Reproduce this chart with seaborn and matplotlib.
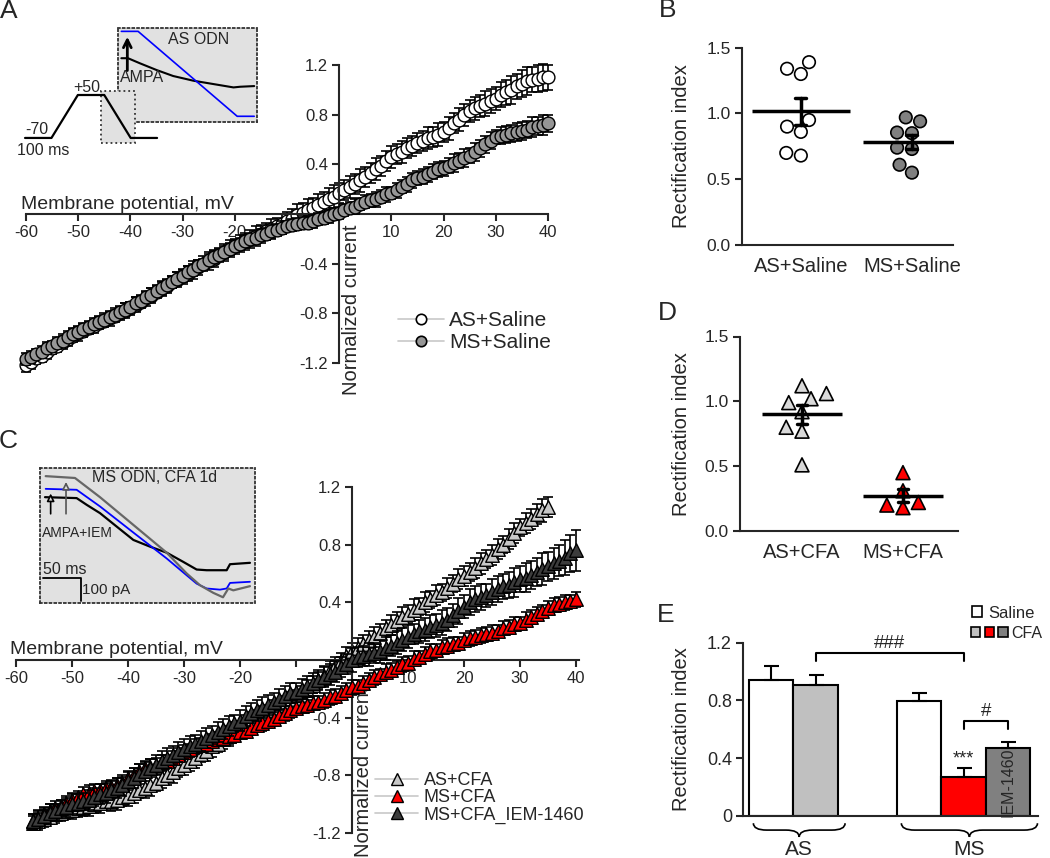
import numpy as np
import pandas as pd
import seaborn as sns
import matplotlib.pyplot as plt
from matplotlib.lines import Line2D
from matplotlib.patches import Patch, Rectangle, PathPatch
from matplotlib.path import Path
from matplotlib.legend_handler import HandlerTuple

# ---------------- Panel A: I-V curves (saline) ----------------
volt_a = list(range(-60, 41))
as_saline = [
    -1.22, -1.19, -1.16, -1.14, -1.11, -1.08,
    -1.06, -1.03, -1.01, -0.98, -0.96,
    -0.94, -0.92, -0.90, -0.88, -0.86,
    -0.84, -0.82, -0.80, -0.78, -0.76,
    -0.73, -0.71, -0.68, -0.66, -0.63,
    -0.60, -0.58, -0.55, -0.53, -0.50,
    -0.48, -0.45, -0.43, -0.40, -0.38,
    -0.36, -0.33, -0.31, -0.28, -0.26,
    -0.24, -0.22, -0.20, -0.18, -0.16,
    -0.14, -0.12, -0.10, -0.08, -0.06,
    -0.04, -0.01, 0.01, 0.03, 0.05,
    0.07, 0.10, 0.12, 0.14, 0.17,
    0.19, 0.22, 0.24, 0.27, 0.30,
    0.33, 0.36, 0.39, 0.43, 0.46,
    0.48, 0.50, 0.53, 0.55, 0.57,
    0.59, 0.61, 0.62, 0.64, 0.66,
    0.69, 0.73, 0.76, 0.80, 0.83,
    0.85, 0.87, 0.89, 0.91, 0.93,
    0.96, 0.98, 1.00, 1.03, 1.05,
    1.07, 1.08, 1.09, 1.10, 1.10,
]
as_saline_sem = [
    0.05, 0.06, 0.05, 0.05, 0.06, 0.05,
    0.05, 0.06, 0.05, 0.05, 0.06,
    0.05, 0.05, 0.06, 0.05, 0.05,
    0.06, 0.05, 0.05, 0.06, 0.05,
    0.06, 0.05, 0.06, 0.06, 0.05,
    0.06, 0.06, 0.05, 0.06, 0.06,
    0.06, 0.07, 0.06, 0.06, 0.07,
    0.07, 0.06, 0.07, 0.07, 0.06,
    0.07, 0.07, 0.07, 0.08, 0.07,
    0.07, 0.08, 0.07, 0.08, 0.08,
    0.08, 0.09, 0.08, 0.09, 0.08,
    0.09, 0.08, 0.09, 0.09, 0.08,
    0.08, 0.09, 0.08, 0.09, 0.08,
    0.08, 0.09, 0.08, 0.08, 0.09,
    0.08, 0.09, 0.08, 0.08, 0.08,
    0.08, 0.09, 0.08, 0.09, 0.08,
    0.09, 0.08, 0.09, 0.09, 0.09,
    0.09, 0.09, 0.10, 0.10, 0.09,
    0.10, 0.10, 0.11, 0.10, 0.11,
    0.11, 0.10, 0.11, 0.11, 0.10,
]
ms_saline = [
    -1.17, -1.15, -1.13, -1.11, -1.08, -1.06,
    -1.04, -1.02, -0.99, -0.97, -0.95,
    -0.93, -0.91, -0.89, -0.87, -0.85,
    -0.83, -0.81, -0.79, -0.77, -0.75,
    -0.72, -0.70, -0.67, -0.65, -0.62,
    -0.60, -0.57, -0.55, -0.52, -0.50,
    -0.47, -0.45, -0.42, -0.40, -0.37,
    -0.35, -0.33, -0.31, -0.28, -0.26,
    -0.24, -0.22, -0.20, -0.19, -0.17,
    -0.16, -0.14, -0.13, -0.11, -0.10,
    -0.09, -0.08, -0.07, -0.07, -0.06,
    -0.04, -0.03, -0.02, 0.00, 0.01,
    0.03, 0.05, 0.06, 0.08, 0.10,
    0.11, 0.12, 0.14, 0.16, 0.17,
    0.19, 0.22, 0.24, 0.27, 0.29,
    0.30, 0.32, 0.34, 0.36, 0.37,
    0.39, 0.41, 0.43, 0.45, 0.47,
    0.50, 0.53, 0.56, 0.59, 0.62,
    0.63, 0.64, 0.65, 0.66, 0.67,
    0.68, 0.70, 0.71, 0.72, 0.73,
]
ms_saline_sem = [
    0.05, 0.05, 0.04, 0.05, 0.05, 0.04,
    0.05, 0.04, 0.05, 0.05, 0.04,
    0.05, 0.05, 0.04, 0.05, 0.05,
    0.04, 0.05, 0.05, 0.05, 0.04,
    0.05, 0.05, 0.04, 0.05, 0.05,
    0.05, 0.04, 0.05, 0.05, 0.05,
    0.05, 0.05, 0.05, 0.04, 0.05,
    0.05, 0.05, 0.05, 0.05, 0.05,
    0.05, 0.05, 0.04, 0.05, 0.05,
    0.05, 0.05, 0.05, 0.05, 0.04,
    0.05, 0.05, 0.05, 0.05, 0.05,
    0.05, 0.05, 0.05, 0.05, 0.05,
    0.05, 0.05, 0.06, 0.05, 0.05,
    0.05, 0.06, 0.05, 0.06, 0.05,
    0.06, 0.05, 0.06, 0.06, 0.06,
    0.06, 0.06, 0.06, 0.06, 0.06,
    0.06, 0.07, 0.06, 0.07, 0.06,
    0.07, 0.07, 0.07, 0.07, 0.06,
    0.07, 0.07, 0.07, 0.07, 0.07,
    0.07, 0.08, 0.07, 0.08, 0.07,
]

# inset A: voltage protocol and example traces (AS ODN)
protocol_t = [0, 100, 200, 300, 400, 500]
protocol_mv = [-70, -70, 50, 50, -70, -70]
trace_a_t_blue = [0, 12.6, 87.2, 100]
trace_a_blue = [0, 0, -253, -253]
trace_a_t_black = [0, 5.0, 13.9, 26.4, 39.0, 54.2, 69.3, 84.4, 89.4, 100]
trace_a_black = [-80, -80, -95, -115, -133, -147, -157, -167, -165, -163]

# ---------------- Panel C: I-V curves (CFA) ----------------
volt_c_as = list(range(-57, 36))
volt_c_ms = list(range(-57, 41))
as_cfa = [
    -1.13, -1.12, -1.10, -1.09, -1.07,
    -1.06, -1.05, -1.04, -1.03, -1.02,
    -1.01, -1.00, -0.99, -0.98, -0.98,
    -0.97, -0.95, -0.94, -0.92, -0.90,
    -0.89, -0.87, -0.85, -0.82, -0.80,
    -0.78, -0.75, -0.73, -0.70, -0.68,
    -0.65, -0.63, -0.60, -0.58, -0.55,
    -0.53, -0.50, -0.48, -0.45, -0.43,
    -0.41, -0.39, -0.37, -0.35, -0.33,
    -0.31, -0.29, -0.27, -0.24, -0.21,
    -0.17, -0.14, -0.11, -0.07, -0.04,
    -0.01, 0.03, 0.06, 0.08, 0.11,
    0.14, 0.16, 0.19, 0.22, 0.24,
    0.27, 0.30, 0.32, 0.35, 0.37,
    0.40, 0.42, 0.45, 0.47, 0.50,
    0.53, 0.56, 0.58, 0.61, 0.64,
    0.67, 0.70, 0.73, 0.77, 0.80,
    0.84, 0.88, 0.92, 0.95, 0.98,
    1.01, 1.04, 1.06,
]
as_cfa_sem = [
    0.05, 0.06, 0.06, 0.05, 0.06,
    0.06, 0.05, 0.06, 0.06, 0.06,
    0.07, 0.06, 0.07, 0.06, 0.07,
    0.07, 0.06, 0.07, 0.07, 0.06,
    0.07, 0.07, 0.06, 0.07, 0.07,
    0.07, 0.06, 0.07, 0.07, 0.07,
    0.06, 0.07, 0.07, 0.06, 0.07,
    0.07, 0.07, 0.06, 0.07, 0.07,
    0.06, 0.07, 0.06, 0.07, 0.06,
    0.06, 0.07, 0.06, 0.06, 0.07,
    0.06, 0.06, 0.07, 0.06, 0.06,
    0.06, 0.06, 0.06, 0.07, 0.06,
    0.06, 0.07, 0.06, 0.06, 0.07,
    0.06, 0.07, 0.06, 0.07, 0.06,
    0.07, 0.06, 0.07, 0.06, 0.07,
    0.06, 0.07, 0.07, 0.06, 0.07,
    0.07, 0.06, 0.07, 0.07, 0.06,
    0.07, 0.07, 0.06, 0.07, 0.07,
    0.07, 0.08, 0.07,
]
ms_cfa = [
    -1.12, -1.10, -1.07, -1.05, -1.03,
    -1.01, -0.99, -0.97, -0.95, -0.93,
    -0.92, -0.91, -0.90, -0.89, -0.88,
    -0.87, -0.85, -0.82, -0.80, -0.77,
    -0.75, -0.74, -0.73, -0.71, -0.70,
    -0.68, -0.66, -0.64, -0.62, -0.60,
    -0.59, -0.58, -0.56, -0.55, -0.54,
    -0.53, -0.52, -0.50, -0.49, -0.47,
    -0.45, -0.44, -0.42, -0.41, -0.39,
    -0.37, -0.35, -0.33, -0.32, -0.31,
    -0.30, -0.29, -0.28, -0.26, -0.25,
    -0.23, -0.21, -0.19, -0.18, -0.16,
    -0.14, -0.12, -0.10, -0.08, -0.07,
    -0.05, -0.03, -0.02, 0.01, 0.02,
    0.04, 0.06, 0.07, 0.09, 0.10,
    0.11, 0.12, 0.14, 0.15, 0.16,
    0.17, 0.18, 0.19, 0.20, 0.22,
    0.23, 0.25, 0.26, 0.28, 0.30,
    0.32, 0.34, 0.36, 0.38, 0.39,
    0.40, 0.41, 0.42,
]
ms_cfa_sem = [
    0.05, 0.05, 0.04, 0.05, 0.05,
    0.04, 0.05, 0.05, 0.04, 0.05,
    0.05, 0.05, 0.04, 0.05, 0.05,
    0.05, 0.04, 0.05, 0.05, 0.05,
    0.04, 0.05, 0.05, 0.05, 0.04,
    0.05, 0.05, 0.05, 0.04, 0.05,
    0.05, 0.04, 0.05, 0.05, 0.05,
    0.05, 0.05, 0.04, 0.05, 0.05,
    0.04, 0.05, 0.05, 0.05, 0.04,
    0.05, 0.05, 0.04, 0.05, 0.05,
    0.05, 0.04, 0.05, 0.05, 0.05,
    0.05, 0.05, 0.05, 0.04, 0.05,
    0.05, 0.05, 0.04, 0.05, 0.05,
    0.04, 0.05, 0.05, 0.05, 0.04,
    0.05, 0.05, 0.04, 0.05, 0.05,
    0.05, 0.04, 0.05, 0.05, 0.05,
    0.05, 0.05, 0.05, 0.04, 0.05,
    0.05, 0.05, 0.04, 0.05, 0.05,
    0.05, 0.04, 0.05, 0.05, 0.05,
    0.05, 0.04, 0.05,
]
ms_cfa_iem = [
    -1.12, -1.10, -1.08, -1.06, -1.05,
    -1.03, -1.02, -1.00, -0.99, -0.98,
    -0.97, -0.95, -0.93, -0.92, -0.90,
    -0.89, -0.87, -0.84, -0.82, -0.79,
    -0.77, -0.75, -0.73, -0.70, -0.68,
    -0.66, -0.64, -0.62, -0.60, -0.58,
    -0.56, -0.54, -0.52, -0.50, -0.48,
    -0.46, -0.44, -0.42, -0.39, -0.37,
    -0.35, -0.33, -0.31, -0.29, -0.27,
    -0.25, -0.23, -0.22, -0.20, -0.18,
    -0.16, -0.14, -0.12, -0.10, -0.08,
    -0.05, -0.03, 0.00, 0.02, 0.03,
    0.04, 0.05, 0.06, 0.08, 0.10,
    0.12, 0.14, 0.16, 0.18, 0.20,
    0.21, 0.23, 0.24, 0.26, 0.28,
    0.31, 0.34, 0.37, 0.40, 0.42,
    0.44, 0.45, 0.47, 0.49, 0.51,
    0.52, 0.54, 0.56, 0.57, 0.59,
    0.61, 0.63, 0.65, 0.67, 0.69,
    0.71, 0.74, 0.76,
]
ms_cfa_iem_sem = [
    0.05, 0.06, 0.06, 0.06, 0.05,
    0.06, 0.06, 0.07, 0.06, 0.06,
    0.07, 0.06, 0.07, 0.07, 0.06,
    0.07, 0.07, 0.06, 0.07, 0.07,
    0.07, 0.06, 0.07, 0.07, 0.07,
    0.06, 0.07, 0.07, 0.07, 0.06,
    0.07, 0.07, 0.06, 0.07, 0.07,
    0.07, 0.06, 0.07, 0.07, 0.07,
    0.07, 0.07, 0.07, 0.06, 0.07,
    0.07, 0.07, 0.06, 0.07, 0.07,
    0.07, 0.07, 0.07, 0.07, 0.07,
    0.07, 0.07, 0.08, 0.07, 0.07,
    0.08, 0.07, 0.08, 0.08, 0.07,
    0.08, 0.08, 0.08, 0.07, 0.08,
    0.08, 0.08, 0.08, 0.09, 0.08,
    0.08, 0.09, 0.08, 0.09, 0.09,
    0.09, 0.08, 0.09, 0.09, 0.09,
    0.09, 0.10, 0.09, 0.10, 0.10,
    0.10, 0.11, 0.10, 0.11, 0.11,
    0.12, 0.13, 0.14,
]

# inset C: example traces (MS ODN, CFA 1d), ms / pA
trace_c_t_gray = [0.9, 39.8, 73.0, 117.3, 161.5, 188.1, 205.8, 223.5, 236.3, 243.4, 250.0, 272.1]
trace_c_gray = [1, -7, -90, -210, -330, -420, -471, -504, -523, -485, -493, -475]
trace_c_t_blue = [0.9, 42.0, 73.0, 117.3, 161.5, 188.1, 201.3, 214.6, 232.3, 241.2, 245.6, 272.1]
trace_c_blue = [-54, -58, -130, -243, -355, -428, -464, -485, -490, -485, -461, -456]
trace_c_t_black = [0, 42.0, 55.3, 73.0, 95.1, 117.3, 139.4, 161.5, 183.6, 201.3, 214.6, 241.2, 245.6, 272.1]
trace_c_black = [-90, -94, -123, -159, -217, -275, -304, -330, -370, -403, -406, -406, -380, -374]

# ---------------- Panels B, D: individual rectification indices ----------------
groups_b = ["AS+Saline", "MS+Saline"]
ri_as_saline = [1.34, 1.30, 1.39, 0.90, 0.86, 0.95, 0.68, 0.70]
ri_ms_saline = [0.97, 0.94, 0.85, 0.855, 0.73, 0.74, 0.61, 0.55]
groups_d = ["AS+CFA", "MS+CFA"]
ri_as_cfa = [1.02, 1.06, 1.12, 0.99, 0.92, 0.77, 0.80, 0.51]
ri_ms_cfa = [0.45, 0.31, 0.20, 0.18, 0.22]

# ---------------- Panel E: summary bars ----------------
e_group = ["AS", "AS", "MS", "MS", "MS"]
e_cond = ["Saline", "CFA", "Saline", "CFA", "IEM-1460"]
e_mean = [0.94, 0.91, 0.795, 0.27, 0.47]
e_sem = [0.10, 0.065, 0.06, 0.06, 0.045]
e_colors = ["white", "#c0c0c0", "white", "#ff0000", "#808080"]

# ---------------- figure ----------------
sns.set_style("ticks")
plt.rcParams["font.family"] = ["Liberation Sans", "DejaVu Sans"]
plt.rcParams["axes.linewidth"] = 1.5

W, H = 1050, 858
fig = plt.figure(figsize=(W / 100, H / 100), dpi=100)


def px_axes(x0, y0, x1, y1):
    return fig.add_axes([x0 / W, 1 - y1 / H, (x1 - x0) / W, (y1 - y0) / H])


def style_iv(ax, xlim, ylim, xmax):
    ax.set_xlim(xlim)
    ax.set_ylim(ylim)
    ax.set_facecolor("none")
    ax.spines["top"].set_visible(False)
    ax.spines["right"].set_visible(False)
    ax.spines["left"].set_position(("data", 0))
    ax.spines["bottom"].set_position(("data", 0))
    ax.spines["left"].set_bounds(-1.2, 1.2)
    ax.spines["bottom"].set_bounds(-60, xmax)
    xt = [-60, -50, -40, -30, -20, -10, 10, 20, 30, 40]
    ax.set_xticks(xt)
    ax.set_xticklabels([("" if v == -10 else str(v)) for v in xt])
    yt = [-1.2, -0.8, -0.4, 0.4, 0.8, 1.2]
    ax.set_yticks(yt)
    ax.set_yticklabels([f"{v:.1f}" for v in yt])
    ax.tick_params(direction="out", length=5, width=1.5, labelsize=12, pad=3)
    ax.set_xlabel("")
    ax.set_ylabel("")
    ax.text(xlim[0] + 1, 0.04, "Membrane potential, mV", ha="left", va="baseline", fontsize=14)


def iv_series(ax, x, y, err, face, marker, size, z):
    ax.errorbar(x, y, yerr=err, fmt="none", ecolor="black", elinewidth=1.2,
                capsize=3.5, capthick=1.2, zorder=z)
    sns.scatterplot(x=x, y=y, ax=ax, color=face, marker=marker, s=size,
                    edgecolor="black", linewidth=1.0, zorder=z + 0.5, clip_on=False,
                    legend=False)


# ---- Panel A ----
axA = px_axes(15.6, 52.6, 558.4, 375.4)
iv_series(axA, volt_a, as_saline, as_saline_sem, "white", "o", 85, 2)
iv_series(axA, volt_a, ms_saline, ms_saline_sem, "#969696", "o", 85, 4)
style_iv(axA, (-62, 42), (-1.3, 1.3), 40)
axA.text(2.3, -0.77, "Normalized current", rotation=90, ha="center", va="center", fontsize=14.5)
fig.legend(handles=[Line2D([], [], color="#c8c8c8", lw=1.2, marker="o", ms=7.5, mfc="white", mec="black", mew=1.2),
                    Line2D([], [], color="#c8c8c8", lw=1.2, marker="o", ms=7.5, mfc="#969696", mec="black", mew=1.2)],
           labels=["AS+Saline", "MS+Saline"], loc="upper left", bbox_to_anchor=(398 / W, 1 - 311 / H),
           frameon=False, fontsize=15, handlelength=2.2, handletextpad=0.25, labelspacing=0.15,
           borderpad=0, borderaxespad=0)

# inset A traces
axIa = px_axes(118, 28, 257, 122)
axIa.set_facecolor("#e1e1e1")
axIa.plot(trace_a_t_black, trace_a_black, color="black", lw=1.5)
axIa.plot(trace_a_t_blue, trace_a_blue, color="#0000ff", lw=1.2)
axIa.set_xlim(-2.52, 102.1)
axIa.set_ylim(-270, 10)
axIa.set_xticks([])
axIa.set_yticks([])
for s in axIa.spines.values():
    s.set_linestyle(":")
    s.set_linewidth(1.3)
    s.set_color("#333333")
axIa.text(57.9, -23, "AS ODN", ha="center", va="center", fontsize=11.5)
axIa.text(-0.8, -137, "AMPA", ha="left", va="center", fontsize=11.5)
axIa.annotate("", xy=(4.5, -8), xytext=(4.5, -125),
              arrowprops=dict(arrowstyle="->", lw=2, color="black", mutation_scale=14))

# voltage protocol
axP = px_axes(15, 78, 165, 158)
axP.axis("off")
axP.set_xlim(-38, 530)
axP.set_ylim(-126, 97.5)
axP.add_patch(Rectangle((288, -84), 129, 145, fc="#e1e1e1", ec="#333333", ls=":", lw=1.3, zorder=1))
axP.plot(protocol_t, protocol_mv, color="black", lw=1.6, zorder=2)
axP.text(45, -45, "-70", ha="center", va="center", fontsize=11.5)
axP.text(235, 72, "+50", ha="center", va="center", fontsize=11.5)
axP.text(68, -104, "100 ms", ha="center", va="center", fontsize=11.5)

# ---- Panel C ----
axC = px_axes(4.8, 472.6, 598.4, 847.4)
iv_series(axC, volt_c_as, as_cfa, as_cfa_sem, "#c8c8c8", "^", 95, 2)
iv_series(axC, volt_c_ms, ms_cfa, ms_cfa_sem, "#ff0000", "^", 95, 4)
iv_series(axC, volt_c_ms, ms_cfa_iem, ms_cfa_iem_sem, "#3c3c3c", "^", 95, 6)
style_iv(axC, (-62, 44), (-1.3, 1.3), 40.5)
axC.text(2.0, -0.775, "Normalized current", rotation=90, ha="center", va="center", fontsize=14.5)
tri = dict(lw=1.2, color="#c8c8c8", marker="^", ms=8.5, mec="black", mew=1.0)
fig.legend(handles=[Line2D([], [], mfc="#c8c8c8", **tri),
                    Line2D([], [], mfc="#ff0000", **tri),
                    Line2D([], [], mfc="#3c3c3c", **tri)],
           labels=["AS+CFA", "MS+CFA", "MS+CFA_IEM-1460"], loc="upper left",
           bbox_to_anchor=(375 / W, 1 - 772 / H), frameon=False, fontsize=13,
           handlelength=2.4, handletextpad=0.3, labelspacing=0.02, borderpad=0, borderaxespad=0)

# inset C traces
axIc = px_axes(40, 468, 255, 603)
axIc.set_facecolor("#e1e1e1")
axIc.plot(trace_c_t_black, trace_c_black, color="black", lw=1.6)
axIc.plot(trace_c_t_blue, trace_c_blue, color="#0000ff", lw=1.3)
axIc.plot(trace_c_t_gray, trace_c_gray, color="#666666", lw=1.6)
axIc.set_xlim(-6.64, 278.8)
axIc.set_ylim(-547.8, 36.2)
axIc.set_xticks([])
axIc.set_yticks([])
for s in axIc.spines.values():
    s.set_linestyle(":")
    s.set_linewidth(1.3)
    s.set_color("#333333")
axIc.text(146, -6, "MS ODN, CFA 1d", ha="center", va="center", fontsize=11.5)
axIc.text(-4.4, -243, "AMPA+IEM", ha="left", va="center", fontsize=10)
axIc.annotate("", xy=(7.5, -62), xytext=(7.5, -174),
              arrowprops=dict(arrowstyle="-|>", lw=1.2, color="black", fc="#e1e1e1", mutation_scale=11))
axIc.annotate("", xy=(27.9, -12), xytext=(27.9, -174),
              arrowprops=dict(arrowstyle="-|>", lw=1.2, color="#555555", fc="#e1e1e1", mutation_scale=11))
scale_ms, scale_pa = 50, 100
sb_t0, sb_i0 = -2.2, -439
axIc.plot([sb_t0, sb_t0 + scale_ms, sb_t0 + scale_ms], [sb_i0, sb_i0, sb_i0 - scale_pa], color="black", lw=1.3)
axIc.text(sb_t0, sb_i0 + 36, "50 ms", ha="left", va="center", fontsize=11.5)
axIc.text(sb_t0 + scale_ms + 1.5, sb_i0 - 54, "100 pA", ha="left", va="center", fontsize=11)


# ---- Panels B and D ----
def scatter_panel(ax, groups, a_vals, b_vals, colors, marker, size, line_w, xlim):
    df = pd.DataFrame({"group": [groups[0]] * len(a_vals) + [groups[1]] * len(b_vals),
                       "ri": a_vals + b_vals})
    sns.swarmplot(data=df, x="group", y="ri", hue="group", order=groups, hue_order=groups,
                  palette=colors, marker=marker, size=size, edgecolor="black", linewidth=1.2,
                  legend=False, ax=ax, clip_on=False, zorder=3)
    sns.pointplot(data=df, x="group", y="ri", order=groups, errorbar="se", color="black",
                  markers="_", markersize=line_w, markeredgewidth=2.5, linestyle="none",
                  capsize=0.1, err_kws={"linewidth": 2.5}, ax=ax, zorder=4)
    ax.set_xlim(xlim)
    ax.set_ylim(0, 1.5)
    ax.set_yticks([0, 0.5, 1.0, 1.5])
    ax.set_yticklabels(["0.0", "0.5", "1.0", "1.5"])
    ax.tick_params(axis="y", direction="out", length=5, width=1.5, labelsize=12.5, pad=3)
    ax.tick_params(axis="x", length=0, labelsize=14.5, pad=9)
    sns.despine(ax=ax)
    ax.set_xlabel("")
    ax.set_ylabel("Rectification index", fontsize=14.5)
    ax.set_facecolor("none")


axB = px_axes(742, 47.7, 953, 245)
scatter_panel(axB, groups_b, ri_as_saline, ri_ms_saline, ["white", "#808080"], "o", 9, 70, (-0.53, 1.37))
axB.yaxis.set_label_coords(-0.24, 0.5)

axD = px_axes(740, 336.5, 958, 531)
scatter_panel(axD, groups_d, ri_as_cfa, ri_ms_cfa, ["#d9d9d9", "#ff0000"], "^", 10, 57, (-0.614, 1.545))
axD.yaxis.set_label_coords(-0.225, 0.5)

# ---- Panel E ----
axE = px_axes(743, 642.7, 1037.5, 816)
dfE = pd.DataFrame({"group": e_group, "cond": e_cond, "ri": e_mean})
sns.barplot(data=dfE, x="group", y="ri", hue="cond", order=["AS", "MS"],
            hue_order=["Saline", "CFA", "IEM-1460"], errorbar=None, width=0.9,
            palette=["white", "#c0c0c0", "#808080"], edgecolor="black", linewidth=1.5,
            legend=False, ax=axE)
bars = {}
for p in axE.patches:
    h = p.get_height()
    if not np.isfinite(h) or h <= 0:
        continue
    idx = int(np.argmin([abs(h - m) for m in e_mean]))
    p.set_facecolor(e_colors[idx])
    bars[idx] = (p.get_x() + p.get_width() / 2, p.get_x(), p.get_x() + p.get_width())
    axE.errorbar(bars[idx][0], h, yerr=[[0], [e_sem[idx]]], fmt="none", ecolor="black",
                 elinewidth=1.5, capsize=5.4, capthick=1.5, zorder=1)
axE.set_xlim(-0.49, 1.5)
axE.set_ylim(0, 1.2)
axE.set_yticks([0, 0.4, 0.8, 1.2])
axE.set_yticklabels(["0", "0.4", "0.8", "1.2"])
axE.tick_params(axis="y", direction="out", length=5, width=1.5, labelsize=13, pad=3)
axE.tick_params(axis="x", length=0, labelbottom=False)
sns.despine(ax=axE)
axE.set_xlabel("")
axE.set_ylabel("Rectification index", fontsize=14.5)
axE.yaxis.set_label_coords(-0.175, 0.5)


def brace(ax, x0, x1, y_top, depth, curl):
    xc = (x0 + x1) / 2
    ym = y_top - depth / 2
    yb = y_top - depth
    verts = [(x0, y_top), (x0, ym), (x0 + curl, ym), (xc - curl, ym), (xc, ym), (xc, yb),
             (xc, ym), (xc + curl, ym), (x1 - curl, ym), (x1, ym), (x1, y_top)]
    codes = [Path.MOVETO, Path.CURVE3, Path.CURVE3, Path.LINETO, Path.CURVE3, Path.CURVE3,
             Path.CURVE3, Path.CURVE3, Path.LINETO, Path.CURVE3, Path.CURVE3]
    ax.add_patch(PathPatch(Path(verts, codes), fc="none", ec="black", lw=1.2, clip_on=False))


def sig(ax, x0, x1, y, drop, text, size):
    ax.plot([x0, x0, x1, x1], [y - drop, y, y, y - drop], color="black", lw=1.5, clip_on=False)
    ax.text((x0 + x1) / 2, y + 0.005, text, ha="center", va="bottom", fontsize=size)


for grp in ["AS", "MS"]:
    members = [i for i, g in enumerate(e_group) if g == grp]
    left = min(bars[i][1] for i in members) + 0.03
    right = max(bars[i][2] for i in members) + 0.05
    brace(axE, left, right, -0.05, 0.095, 0.09)
    axE.text((left + right) / 2, -0.235, grp, ha="center", va="center", fontsize=15)

sig(axE, bars[1][0], bars[3][0], 1.13, 0.055, "###", 13.5)
sig(axE, bars[3][0], bars[4][0], 0.66, 0.06, "#", 13.5)
axE.text(bars[3][0], e_mean[3] + e_sem[3] + 0.005, "***", ha="center", va="bottom", fontsize=13)
axE.text(bars[4][0], e_mean[4] / 2, "IEM-1460", rotation=90, ha="center", va="center", fontsize=11.5)

sq = dict(ec="black", lw=1.2)
fig.legend(handles=[Patch(fc="white", **sq)], labels=["Saline"], loc="center left",
           bbox_to_anchor=(972 / W, 1 - 613 / H), frameon=False, fontsize=12,
           handlelength=0.6, handleheight=0.6, handletextpad=0.35, borderpad=0, borderaxespad=0)
fig.legend(handles=[(Patch(fc="#c0c0c0", **sq), Patch(fc="#ff0000", **sq), Patch(fc="#808080", **sq))],
           labels=["CFA"], handler_map={tuple: HandlerTuple(ndivide=None, pad=0.27)},
           loc="center left", bbox_to_anchor=(971 / W, 1 - 633 / H), frameon=False, fontsize=11.5,
           handlelength=2.3, handleheight=0.6, handletextpad=0.25, borderpad=0, borderaxespad=0)

# panel letters
for letter, (lx, ly) in {"A": (9, 11), "B": (668, 10), "C": (8, 441), "D": (667, 313), "E": (666, 615)}.items():
    fig.text(lx / W, 1 - ly / H, letter, ha="center", va="center", fontsize=19)

fig.savefig("out.png", dpi=100)
